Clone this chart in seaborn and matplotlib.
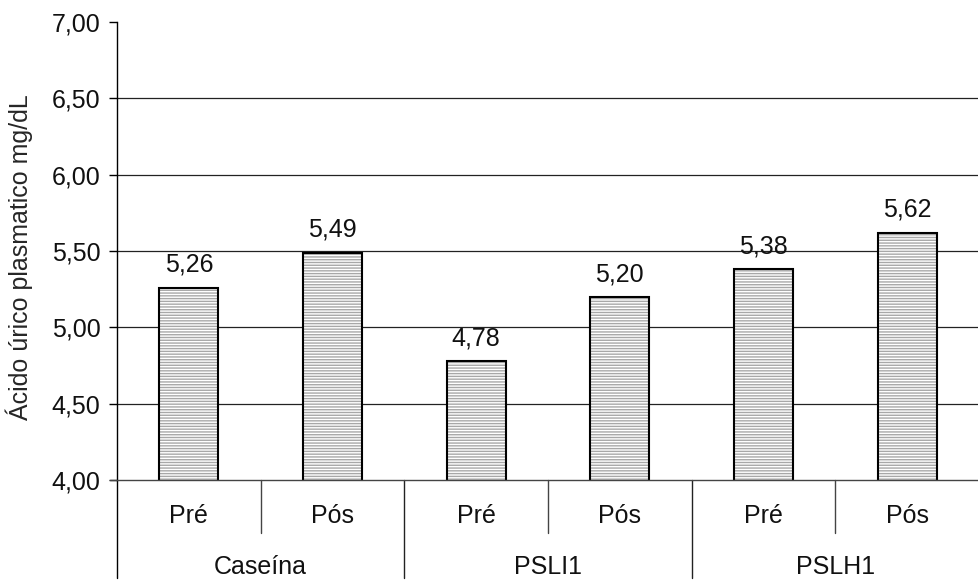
import matplotlib
matplotlib.use("Agg")
import matplotlib.pyplot as plt
import seaborn as sns
import pandas as pd
from matplotlib.patches import Rectangle
from matplotlib.transforms import blended_transform_factory

# Data
groups = ["Caseína", "Caseína", "PSLI1", "PSLI1", "PSLH1", "PSLH1"]
moments = ["Pré", "Pós", "Pré", "Pós", "Pré", "Pós"]
values = [5.26, 5.49, 4.78, 5.20, 5.38, 5.62]
yticks = [4.00, 4.50, 5.00, 5.50, 6.00, 6.50, 7.00]

df = pd.DataFrame({"cat": [f"{g}|{m}" for g, m in zip(groups, moments)],
                   "valor": values})

sns.set_theme(style="white")
plt.rcParams["font.family"] = ["Liberation Sans", "DejaVu Sans"]
plt.rcParams["hatch.linewidth"] = 1.0
FS = 18

fig = plt.figure(figsize=(9.79, 5.81), dpi=100)
ax = fig.add_axes([117 / 979, 101 / 581, 1 - 117 / 979, 458 / 581])

sns.barplot(data=df, x="cat", y="valor", ax=ax, width=0.41,
            color="white", edgecolor="black", linewidth=1.5, zorder=3)

# hatched fill under the black outline
for p in list(ax.patches):
    p.set_facecolor("none")
    ax.add_patch(Rectangle(p.get_xy(), p.get_width(), p.get_height(),
                           facecolor="white", edgecolor="#a8a8a8",
                           hatch="------", linewidth=0, zorder=2.5))

ax.set_ylim(4.0, 7.0)
ax.set_xlim(-0.5, len(values) - 0.5)
ax.set_yticks(yticks)
ax.set_yticklabels([f"{t:.2f}".replace(".", ",") for t in yticks], fontsize=FS)
for t in yticks[1:-1]:
    ax.axhline(t, color="#222222", linewidth=0.9, zorder=1)

for s in ["top", "right", "bottom"]:
    ax.spines[s].set_visible(False)
ax.spines["left"].set_color("black")
ax.spines["left"].set_linewidth(1.0)
ax.tick_params(axis="y", length=6, width=1, color="black", left=True,
               pad=6, labelcolor="#111111")
ax.set_xticks([])
ax.set_xlabel("")
ax.set_ylabel("Ácido úrico plasmatico mg/dL", fontsize=FS)
ax.yaxis.set_label_coords(-84 / 862, 0.487)

# value labels
for i, v in enumerate(values):
    ax.text(i, v + 0.07, f"{v:.2f}".replace(".", ","), ha="center",
            va="bottom", fontsize=FS, color="#111111")

# category axis with two levels
tr = blended_transform_factory(ax.transData, ax.transAxes)
px = 1 / 458
ax.plot([-0.55, len(values) - 0.5], [0, 0], transform=tr, color="#444444",
        linewidth=1.0, clip_on=False, zorder=4)
for i, m in enumerate(moments):
    ax.text(i, -36 * px, m, transform=tr, ha="center", va="center",
            fontsize=FS, color="#111111")
for k in range(3):
    ax.plot([2 * k + 0.5] * 2, [0, -53 * px], transform=tr, color="#444444",
            linewidth=1.0, clip_on=False)
    ax.text(2 * k + 0.5, -87 * px, groups[2 * k], transform=tr, ha="center",
            va="center", fontsize=FS, color="#111111")
for b in [1.5, 3.5]:
    ax.plot([b] * 2, [0, -98 * px], transform=tr, color="#222222",
            linewidth=1.0, clip_on=False)
ax.plot([-0.5] * 2, [0, -98 * px], transform=tr, color="black",
        linewidth=1.0, clip_on=False)

fig.savefig("out.png", dpi=100)
